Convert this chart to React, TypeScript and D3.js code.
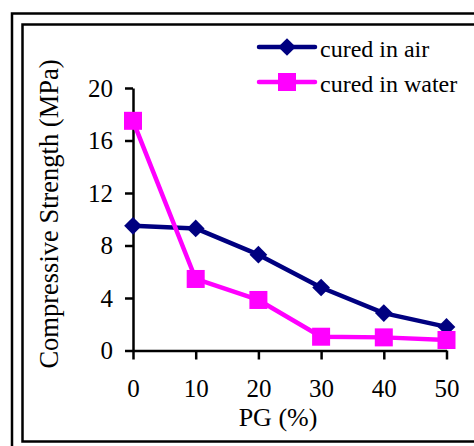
import { useEffect, useRef } from "react";
import * as d3 from "d3";

// PG content (%) on the x axis
const pgLevels = [0, 10, 20, 30, 40, 50];
// compressive strength (MPa)
const curedInAir = [9.5, 9.3, 7.3, 4.8, 2.85, 1.8];
const curedInWater = [17.5, 5.45, 3.85, 1.05, 1.0, 0.8];
const yTicks = [0, 4, 8, 12, 16, 20];
const seriesNames = ["cured in air", "cured in water"];

const W = 474;
const H = 446;
const FONT = "'Liberation Serif', 'Times New Roman', serif";
const NAVY = "#000080";
const MAGENTA = "#ff00ff";

const App = () => {
  const svgRef = useRef<SVGSVGElement>(null);

  useEffect(() => {
    const svg = d3.select(svgRef.current);
    svg.selectAll("*").remove();

    // double frame
    svg.append("rect").attr("x", 12).attr("y", 13.5).attr("width", 480).attr("height", 450)
      .attr("fill", "none").attr("stroke", "#000").attr("stroke-width", 2.5);
    svg.append("rect").attr("x", 22.5).attr("y", 24.5).attr("width", 470).attr("height", 417)
      .attr("fill", "none").attr("stroke", "#000").attr("stroke-width", 2.5);

    const x = d3.scaleLinear().domain([0, 50]).range([133, 446.5]);
    const y = d3.scaleLinear().domain([0, 20]).range([350.5, 88]);

    // y axis
    const gy = svg.append("g").attr("transform", `translate(${x(0)},0)`)
      .call(d3.axisLeft(y).tickValues(yTicks).tickSize(8).tickPadding(12).tickSizeOuter(0));
    gy.attr("font-family", FONT);
    gy.select(".domain").attr("stroke-width", 2.5);
    gy.selectAll(".tick line").attr("stroke-width", 2.5);
    gy.selectAll(".tick text").attr("font-family", FONT).attr("font-size", 25).attr("fill", "#000");

    // x axis
    const gx = svg.append("g").attr("transform", `translate(0,${y(0)})`)
      .call(d3.axisBottom(x).tickValues(pgLevels).tickSize(9).tickPadding(20).tickSizeOuter(0));
    gx.attr("font-family", FONT);
    gx.select(".domain").attr("stroke-width", 2.5);
    gx.selectAll(".tick line").attr("stroke-width", 2.5);
    gx.selectAll(".tick text").attr("font-family", FONT).attr("font-size", 25).attr("fill", "#000");

    // axis titles
    svg.append("text").attr("x", 278).attr("y", 426).attr("text-anchor", "middle")
      .attr("font-family", FONT).attr("font-size", 26).text("PG (%)");
    svg.append("text").attr("transform", "translate(58,214) rotate(-90)").attr("text-anchor", "middle")
      .attr("font-family", FONT).attr("font-size", 26.5).text("Compressive Strength (MPa)");

    const line = d3.line<number>().x((_, i) => x(pgLevels[i])).y(d => y(d));
    const diamond = d3.symbol().type(d3.symbolDiamond2).size(200);

    // cured in air
    svg.append("path").attr("d", line(curedInAir)).attr("fill", "none")
      .attr("stroke", NAVY).attr("stroke-width", 4.5).attr("stroke-linejoin", "round");
    svg.append("g").selectAll("path").data(curedInAir).join("path")
      .attr("d", diamond)
      .attr("transform", (d, i) => `translate(${x(pgLevels[i])},${y(d)})`)
      .attr("fill", NAVY);

    // cured in water
    svg.append("path").attr("d", line(curedInWater)).attr("fill", "none")
      .attr("stroke", MAGENTA).attr("stroke-width", 4.5).attr("stroke-linejoin", "round");
    svg.append("g").selectAll("rect").data(curedInWater).join("rect")
      .attr("x", (d, i) => x(pgLevels[i]) - 9)
      .attr("y", d => y(d) - 9)
      .attr("width", 18).attr("height", 18)
      .attr("fill", MAGENTA);

    // legend
    const legend = svg.append("g");
    seriesNames.forEach((name, i) => {
      const ly = 47 + i * 35;
      const col = i === 0 ? NAVY : MAGENTA;
      legend.append("line").attr("x1", 259).attr("x2", 315).attr("y1", ly).attr("y2", ly)
        .attr("stroke", col).attr("stroke-width", 4.5).attr("stroke-linecap", "round");
      if (i === 0) {
        legend.append("path").attr("d", diamond).attr("transform", `translate(287,${ly})`).attr("fill", col);
      } else {
        legend.append("rect").attr("x", 278).attr("y", ly - 9).attr("width", 18).attr("height", 18).attr("fill", col);
      }
      legend.append("text").attr("x", 320).attr("y", ly + 10)
        .attr("font-family", FONT).attr("font-size", 24).text(name);
    });
  }, []);

  return (
    <svg ref={svgRef} width={W} height={H}
      style={{ position: "absolute", left: 0, top: 0, display: "block", background: "#fff" }} />
  );
};

export default App;
